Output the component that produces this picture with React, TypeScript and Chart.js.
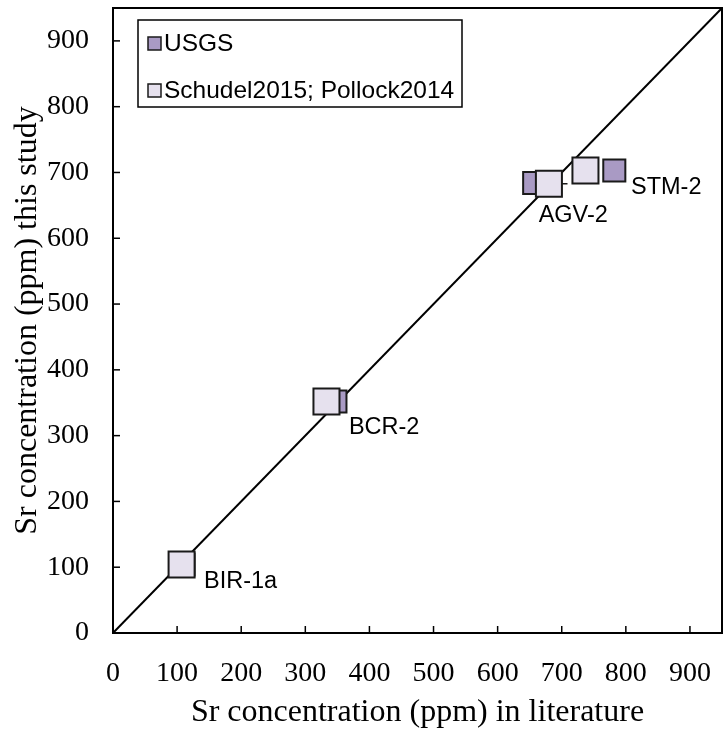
import React, { useEffect, useRef } from "react";
import { Chart, registerables } from "chart.js";

Chart.register(...registerables);

const samples = ["BIR-1a", "BCR-2", "AGV-2", "STM-2"];
const usgsX = [110, 347, 657, 782];
const usgsY = [104, 352, 684, 703];
const schudelX = [107, 333, 680, 737];
const schudelY = [104, 352, 683, 703];
const schudelXErr = [0, 0, 29, 0];
const labelX = [142, 368, 664, 808];
const labelY = [79, 313, 635, 677];
const xTicks = [0, 100, 200, 300, 400, 500, 600, 700, 800, 900];
const yTicks = [0, 100, 200, 300, 400, 500, 600, 700, 800, 900];
const axisMin = 0;
const axisMax = 950;
const seriesNames = ["USGS", "Schudel2015; Pollock2014"];

const USGS_FILL = "#a99ac4";
const SCH_FILL = "#e6e1ee";
const EDGE = "#1a1a1a";
const SANS = "'Liberation Sans', Arial, sans-serif";
const SERIF = "'Liberation Serif', 'Times New Roman', serif";

const overlay = {
  id: "overlay",
  beforeDatasetsDraw(chart: any) {
    const ctx = chart.ctx;
    const xs = chart.scales.x;
    const ys = chart.scales.y;
    ctx.save();
    ctx.strokeStyle = EDGE;
    ctx.lineWidth = 1.5;
    schudelX.forEach((v, i) => {
      const e = schudelXErr[i];
      if (!e) return;
      const py = ys.getPixelForValue(schudelY[i]);
      ctx.beginPath();
      ctx.moveTo(xs.getPixelForValue(v - e), py);
      ctx.lineTo(xs.getPixelForValue(v + e), py);
      ctx.stroke();
    });
    ctx.restore();
  },
  afterDraw(chart: any) {
    const ctx = chart.ctx;
    const { left, right, top, bottom } = chart.chartArea;
    const xs = chart.scales.x;
    const ys = chart.scales.y;
    ctx.save();
    ctx.strokeStyle = "#000";
    ctx.lineWidth = 2;
    ctx.strokeRect(left, top, right - left, bottom - top);
    ctx.lineWidth = 1.5;
    const tl = 7;
    xs.ticks.forEach((t: any, i: number) => {
      const px = xs.getPixelForTick(i);
      ctx.beginPath();
      ctx.moveTo(px, bottom);
      ctx.lineTo(px, bottom - tl);
      ctx.stroke();
    });
    ys.ticks.forEach((t: any, i: number) => {
      const py = ys.getPixelForTick(i);
      ctx.beginPath();
      ctx.moveTo(left, py);
      ctx.lineTo(left + tl, py);
      ctx.stroke();
    });
    ctx.fillStyle = "#000";
    ctx.font = `23.5px ${SANS}`;
    ctx.textAlign = "left";
    ctx.textBaseline = "middle";
    samples.forEach((s, i) => {
      ctx.fillText(s, xs.getPixelForValue(labelX[i]), ys.getPixelForValue(labelY[i]));
    });
    const lx = 138, ly = 20, lw = 324, lh = 87;
    ctx.fillStyle = "#fff";
    ctx.fillRect(lx, ly, lw, lh);
    ctx.strokeStyle = "#000";
    ctx.lineWidth = 1.5;
    ctx.strokeRect(lx, ly, lw, lh);
    const fills = [USGS_FILL, SCH_FILL];
    ctx.font = `24.5px ${SANS}`;
    seriesNames.forEach((n, i) => {
      const cy = ly + 24 + i * 47;
      ctx.fillStyle = fills[i];
      ctx.fillRect(148, cy - 7, 13, 13);
      ctx.strokeStyle = EDGE;
      ctx.lineWidth = 1.5;
      ctx.strokeRect(148, cy - 7, 13, 13);
      ctx.fillStyle = "#000";
      ctx.fillText(n, 164, cy);
    });
    ctx.restore();
  },
};

export default function App() {
  const ref = useRef<HTMLCanvasElement>(null);
  useEffect(() => {
    if (!ref.current) return;
    const chart = new Chart(ref.current, {
      type: "scatter",
      data: {
        datasets: [
          {
            label: seriesNames[1],
            data: schudelX.map((x, i) => ({ x, y: schudelY[i] })),
            pointStyle: "rect",
            pointRadius: 18.4,
            pointHoverRadius: 18.4,
            backgroundColor: SCH_FILL,
            borderColor: EDGE,
            borderWidth: 2,
            order: 0,
          },
          {
            label: seriesNames[0],
            data: usgsX.map((x, i) => ({ x, y: usgsY[i] })),
            pointStyle: "rect",
            pointRadius: 15.6,
            pointHoverRadius: 15.6,
            backgroundColor: USGS_FILL,
            borderColor: EDGE,
            borderWidth: 2,
            order: 1,
          },
          {
            type: "line",
            label: "1:1",
            data: [
              { x: axisMin, y: axisMin },
              { x: axisMax, y: axisMax },
            ],
            borderColor: "#000",
            borderWidth: 2,
            pointRadius: 0,
            showLine: true,
            order: 2,
          } as any,
        ],
      },
      options: {
        animation: false,
        responsive: false,
        events: [],
        layout: { autoPadding: false, padding: { top: 8, right: 1, bottom: 0, left: 0 } },
        plugins: { legend: { display: false }, tooltip: { enabled: false } },
        scales: {
          x: {
            type: "linear",
            min: axisMin,
            max: axisMax,
            afterBuildTicks: (s: any) => {
              s.ticks = xTicks.map((v) => ({ value: v }));
            },
            afterFit: (s: any) => {
              s.height = 103;
              s.paddingLeft = 0;
              s.paddingRight = 0;
              s.paddingTop = 0;
              s.paddingBottom = 0;
            },
            grid: { display: false, drawTicks: false },
            border: { display: false },
            ticks: {
              padding: 24,
              color: "#000",
              font: { family: SERIF, size: 28 },
              maxRotation: 0,
              autoSkip: false,
            },
            title: {
              display: true,
              text: "Sr concentration (ppm) in literature",
              color: "#000",
              font: { family: SERIF, size: 32 },
              padding: { top: 0, bottom: 4 },
            },
          },
          y: {
            type: "linear",
            min: axisMin,
            max: axisMax,
            afterBuildTicks: (s: any) => {
              s.ticks = yTicks.map((v) => ({ value: v }));
            },
            afterFit: (s: any) => {
              s.width = 113;
              s.paddingLeft = 0;
              s.paddingRight = 0;
              s.paddingTop = 0;
              s.paddingBottom = 0;
            },
            grid: { display: false, drawTicks: false },
            border: { display: false },
            ticks: {
              padding: 24,
              color: "#000",
              font: { family: SERIF, size: 28 },
              autoSkip: false,
            },
            title: {
              display: true,
              text: "Sr concentration (ppm) this study",
              color: "#000",
              font: { family: SERIF, size: 32 },
              padding: { top: 8, bottom: 0 },
            },
          },
        },
      },
      plugins: [overlay],
    });
    return () => chart.destroy();
  }, []);
  return (
    <div style={{ position: "absolute", left: 0, top: 0, width: 723, height: 736, background: "#fff" }}>
      <canvas ref={ref} width={723} height={736} style={{ display: "block" }} />
    </div>
  );
}
